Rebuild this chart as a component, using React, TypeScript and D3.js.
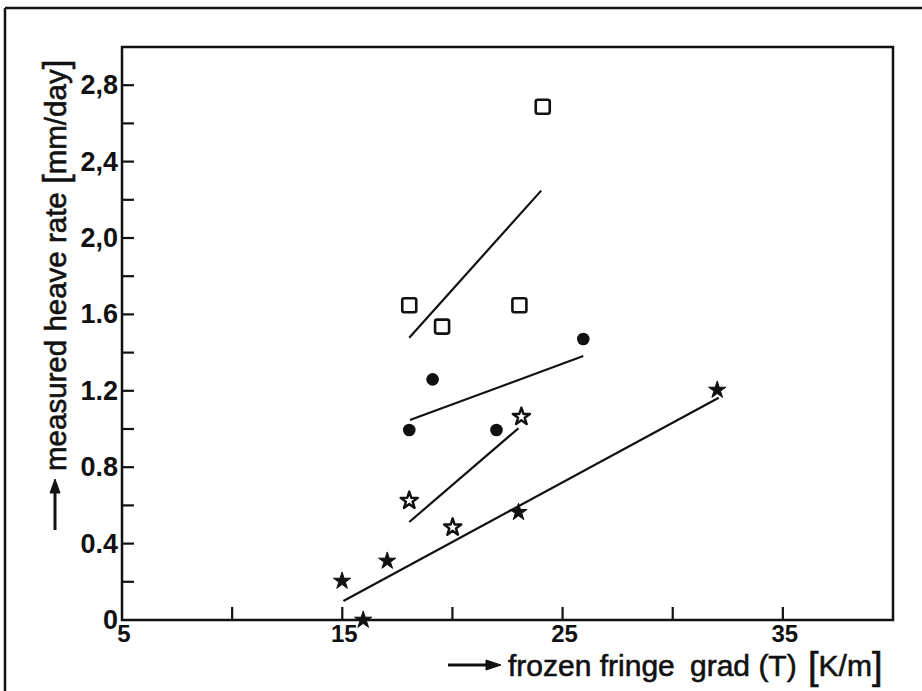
import React from 'react';
import * as d3 from 'd3';

const squareX = [18.04, 19.53, 23.04, 24.1];
const squareY = [1.648, 1.536, 1.648, 2.687];
const circleX = [18.04, 19.1, 22.0, 25.94];
const circleY = [0.995, 1.26, 0.995, 1.471];
const openStarX = [18.04, 20.01, 23.13];
const openStarY = [0.625, 0.485, 1.064];
const starX = [14.99, 15.95, 17.04, 23.0, 32.02];
const starY = [0.204, 0.0, 0.309, 0.564, 1.204];

// regression lines [x0, y0, x1, y1]
const squareFit = [18.04, 1.478, 24.03, 2.248];
const circleFit = [18.07, 1.047, 25.94, 1.382];
const openStarFit = [18.04, 0.513, 23.0, 1.004];
const starFit = [15.05, 0.099, 32.09, 1.164];

const yTickLabels = ['0', '0.4', '0.8', '1.2', '1.6', '2,0', '2,4', '2,8'];
const yLabelValues = [0, 0.4, 0.8, 1.2, 1.6, 2.0, 2.4, 2.8];
const xLabelValues = [5, 15, 25, 35];

const W = 922, H = 691;
const margin = { top: 47, right: 29, bottom: 71, left: 122 };

const ink = '#111';
const font = '"Liberation Sans", Arial, Helvetica, sans-serif';

export default function App() {
  const x = d3.scaleLinear().domain([5, 40]).range([margin.left, W - margin.right]);
  const y = d3.scaleLinear().domain([0, 3]).range([H - margin.bottom, margin.top]);

  const x0 = x(5), x1 = x(40), y0 = y(0), y1 = y(3);

  //D3 mathy bits
  const yMinor = d3.range(0.2, 2.81, 0.2);
  const xMinor = d3.range(10, 36, 5);
  const starPath = d3.symbol(d3.symbolStar, 92)();
  const openStarPath = d3.symbol(d3.symbolStar, 92)();

  const fitLine = (f: number[], key: string) => (
    <line key={key} x1={x(f[0])} y1={y(f[1])} x2={x(f[2])} y2={y(f[3])} stroke={ink} strokeWidth={2.2} />
  );

  return (
    <svg width={W} height={H} style={{ position: 'absolute', left: 0, top: 0, background: '#fff' }}>
      {/* outer frame of the scanned figure */}
      <line x1={5} y1={8} x2={W} y2={8} stroke={ink} strokeWidth={2.5} />
      <line x1={5} y1={8} x2={5} y2={H} stroke={ink} strokeWidth={2.5} />

      {/* plot box */}
      <rect x={x0} y={y1} width={x1 - x0} height={y0 - y1} fill="none" stroke={ink} strokeWidth={2.5} />

      {/* ticks */}
      <g stroke={ink} strokeWidth={2.2}>
        {yMinor.map((t, i) => (
          <line key={'y' + i} x1={x0} x2={x0 + 12} y1={y(t)} y2={y(t)} />
        ))}
        {xMinor.map((t, i) => (
          <line key={'x' + i} x1={x(t)} x2={x(t)} y1={y0} y2={y0 - 13} />
        ))}
      </g>

      <g fontFamily={font} fontWeight="bold" fontSize={27} fill={ink}>
        {yLabelValues.map((v, i) => (
          <text key={i} x={x0 - 4} y={y(v)} textAnchor="end" dominantBaseline="central">{yTickLabels[i]}</text>
        ))}
      </g>
      <g fontFamily={font} fontWeight="bold" fontSize={24} fill={ink}>
        {xLabelValues.map((v, i) => (
          <text key={i} x={x(v) + 2} y={y0 + 22} textAnchor="middle">{v}</text>
        ))}
      </g>

      {/* y axis title */}
      <g transform="translate(66,471) rotate(-90)" fontFamily={font} fontSize={29.5} fill={ink} stroke={ink} strokeWidth={0.6}>
        <text x={0} y={0}>
          measured heave rate <tspan fontSize={35} dy={2}>[</tspan><tspan dy={-2}>mm/day</tspan><tspan fontSize={35} dy={2}>]</tspan>
        </text>
      </g>
      <g stroke={ink} fill={ink}>
        <line x1={55} y1={530} x2={55} y2={490} strokeWidth={3} />
        <path d="M55,479 L50,493 L60,493 Z" strokeWidth={1} />
      </g>

      {/* x axis title */}
      <g stroke={ink} fill={ink}>
        <line x1={448} y1={665} x2={488} y2={665} strokeWidth={3} />
        <path d="M501,665 L486,660 L486,670 Z" strokeWidth={1} />
      </g>
      <g fontFamily={font} fontSize={30} fill={ink} stroke={ink} strokeWidth={0.6}>
        <text x={508} y={676}>frozen fringe</text>
        <text x={690} y={676}>grad (T)</text>
        <text x={808} y={676}><tspan fontSize={38} dy={3}>[</tspan><tspan dy={-3}>K/m</tspan><tspan fontSize={38} dy={3}>]</tspan></text>
      </g>

      {/* fitted lines */}
      {fitLine(squareFit, 'sq')}
      {fitLine(circleFit, 'ci')}
      {fitLine(openStarFit, 'os')}
      {fitLine(starFit, 'st')}

      {/* open squares */}
      {squareX.map((v, i) => (
        <rect key={'s' + i} x={x(v) - 7} y={y(squareY[i]) - 7} width={14} height={14} rx={2}
          fill="#fff" stroke={ink} strokeWidth={2.6} />
      ))}
      {/* filled circles */}
      {circleX.map((v, i) => (
        <circle key={'c' + i} cx={x(v)} cy={y(circleY[i])} r={6.3} fill={ink} />
      ))}
      {/* open stars */}
      {openStarX.map((v, i) => (
        <path key={'o' + i} d={openStarPath || ''} transform={`translate(${x(v)},${y(openStarY[i])})`}
          fill="#fff" stroke={ink} strokeWidth={2.4} strokeLinejoin="round" />
      ))}
      {/* filled stars */}
      {starX.map((v, i) => (
        <path key={'f' + i} d={starPath || ''} transform={`translate(${x(v)},${y(starY[i])})`}
          fill={ink} stroke={ink} strokeWidth={1} strokeLinejoin="round" />
      ))}
    </svg>
  );
}
